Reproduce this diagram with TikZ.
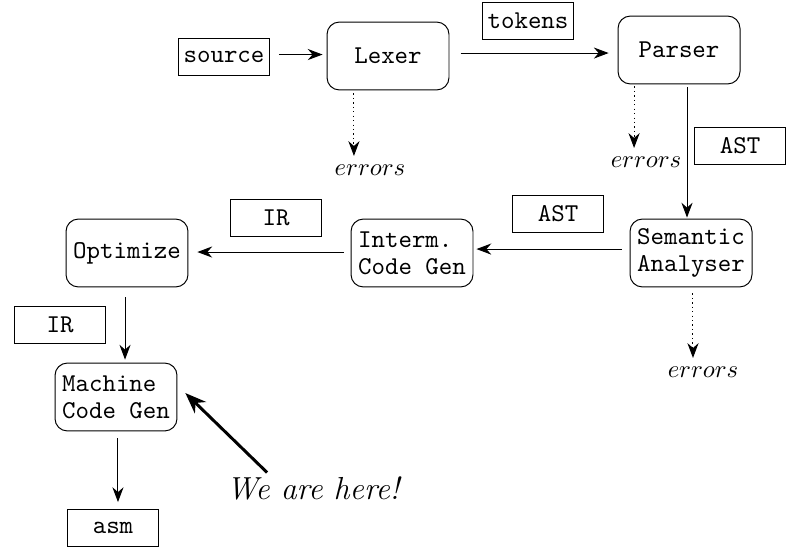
\documentclass[tikz,border=0pt]{standalone}
\usetikzlibrary{arrows.meta}
\begin{document}
\begin{tikzpicture}[x=0.405pt,y=-0.405pt,
  >={Stealth[length=6pt,width=4.5pt]},
  stage/.style={draw, rounded corners=5pt, minimum width=49.4pt, minimum height=27.5pt,
    inner sep=1pt, font=\ttfamily\fontsize{10.4}{11}\selectfont, align=left},
  datum/.style={draw, minimum width=36.9pt, minimum height=15pt, inner sep=0pt,
    font=\ttfamily\fontsize{10.4}{11}\selectfont},
  flow/.style={->},
  errflow/.style={->, dash pattern=on 0.5pt off 1.3pt},
  herearrow/.style={-{Stealth[length=8.5pt,width=6.5pt]}, very thick}]
\useasboundingbox (0,0) rectangle (793,547);

\node[datum] (source) at (224,57) {source};
\node[stage] (lexer) at (388,56) {Lexer};
\node[datum] (tokens) at (528,21) {tokens};
\node[stage] (parser) at (679,50) {Parser};
\node[datum] (ast1) at (740,146) {AST};
\node[stage] (sema) at (691,253) {Semantic\\Analyser};
\node[datum] (ast2) at (558,214) {AST};
\node[stage] (interm) at (412,253) {Interm.\\Code Gen};
\node[datum] (ir1) at (276,218) {IR};
\node[stage] (opt) at (127,253) {Optimize};
\node[datum] (ir2) at (60,325) {IR};
\node[stage] (mach) at (116,397) {Machine\\Code Gen};
\node[datum] (asm) at (113,528) {asm};
\node (lexerr) at (370,170) {$errors$};
\node (parerr) at (646,162) {$errors$};
\node (semerr) at (703,372) {$errors$};
\node[font=\fontsize{12.9}{15}\selectfont\itshape] (here) at (313,488) {We are here!};

\draw[flow, shorten <=3.6pt, shorten >=1.6pt] ([yshift=1pt]source.east) -- ([yshift=1pt]source.east -| lexer.west);
\draw[flow, shorten <=4.5pt, shorten >=3.6pt] ([yshift=1.2pt]lexer.east) -- ([yshift=1.2pt]lexer.east -| parser.west);
\draw[flow, shorten <=1.2pt, shorten >=0.4pt] ([xshift=3.24pt]parser.south) -- ([xshift=3.24pt]parser.south |- sema.north);
\draw[flow, shorten <=3.2pt, shorten >=1.2pt] ([yshift=1.6pt]sema.west) -- ([yshift=1.6pt]sema.west -| interm.east);
\draw[flow, shorten <=2.8pt, shorten >=3.6pt] ([yshift=0.4pt]interm.west) -- ([yshift=0.4pt]interm.west -| opt.east);
\draw[flow, shorten <=4pt, shorten >=1.2pt] ([xshift=-0.8pt]opt.south) -- ([xshift=-0.8pt]opt.south |- mach.north);
\draw[flow, shorten <=2.8pt, shorten >=2.8pt] ([xshift=0.8pt]mach.south) -- ([xshift=0.8pt]mach.south |- asm.north);

\draw[errflow, shorten <=1.2pt] ([xshift=-13.8pt]lexer.south) -- ([xshift=-13.8pt]lexer.south |- lexerr.north);
\draw[errflow, shorten <=0.8pt] ([xshift=-18.2pt]parser.south) -- ([xshift=-18.2pt]parser.south |- parerr.north);
\draw[errflow, shorten <=2.4pt] ([xshift=0.8pt]sema.south) -- ([xshift=0.8pt]sema.south |- semerr.north);

\draw[herearrow] ([xshift=-18.6pt,yshift=-2pt]here.north) -- ([xshift=3.2pt,yshift=1.6pt]mach.east);
\end{tikzpicture}
\end{document}
